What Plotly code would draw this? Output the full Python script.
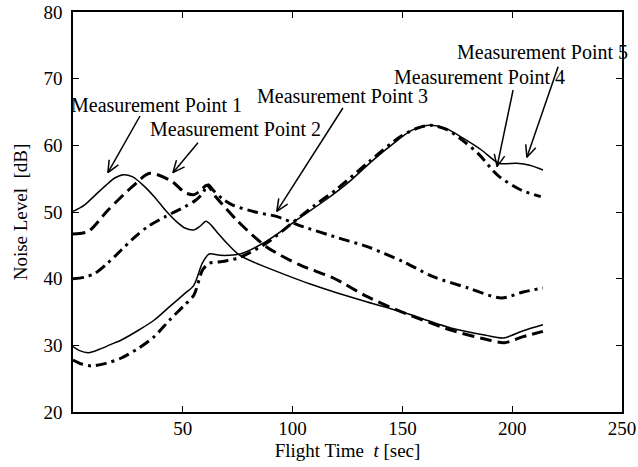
import math
import plotly.graph_objects as go

# Noise level at each measurement point over the flight (t in sec, level in dB)
t_mp1 = [0, 5, 10, 15, 19, 23, 27, 32, 37, 42, 47, 51, 55, 58, 60.5, 63, 66, 71, 76, 85, 95,
         108, 120, 134, 149, 172, 188, 196, 205, 214]
lv_mp1 = [50.1, 51.0, 52.5, 54.0, 55.1, 55.6, 55.3, 54.0, 52.3, 50.3, 48.6, 47.6, 47.3, 47.9, 48.6,
          48.0, 46.8, 45.0, 43.5, 42.1, 40.8, 39.2, 37.9, 36.5, 35.1, 32.6, 31.5, 31.1, 32.2, 33.1]

t_mp2 = [0, 7, 16, 27, 35, 45, 51, 55, 58, 61, 65, 74.5, 88, 103, 118.5, 134, 149, 172, 188,
         196.5, 205, 214]
lv_mp2 = [46.7, 47.1, 50.3, 53.8, 55.8, 54.6, 52.9, 52.6, 53.2, 54.0, 52.3, 48.8, 44.8, 42.1, 40.1,
          37.3, 35.1, 32.3, 30.9, 30.4, 31.3, 32.1]

t_mp3 = [0, 5, 10, 16, 22, 28, 34, 42, 51, 56, 59, 61.5, 64, 68, 73, 83, 93, 103, 121, 134, 150,
         164, 180, 195, 205, 214]
lv_mp3 = [40.0, 40.2, 40.8, 42.4, 44.3, 46.2, 47.8, 49.3, 50.8, 51.8, 52.8, 54.1, 53.2, 52.0, 51.0,
          50.0, 49.3, 48.0, 46.1, 44.8, 42.6, 40.3, 38.6, 37.1, 38.0, 38.6]

t_mp4 = [0, 4, 8.5, 15, 22, 30, 37, 44, 51, 55, 59, 62, 66, 70, 76, 88, 100, 110, 120, 135, 149,
         157, 163, 170, 178, 185, 191, 194.5, 204, 213]
lv_mp4 = [27.8, 27.2, 26.9, 27.3, 28.1, 29.6, 31.3, 33.8, 36.1, 37.5, 41.3, 42.3, 42.5, 42.7, 43.2,
          45.3, 48.4, 51.0, 53.4, 57.6, 61.3, 62.6, 63.0, 62.4, 60.6, 58.6, 56.3, 55.2, 53.3, 52.3]

t_mp5 = [0, 3, 7, 12, 17, 22, 30, 37, 44, 51, 55, 59, 62, 67, 76, 88, 104, 115, 126, 136, 146,
         154, 162, 170, 178, 186, 194, 202, 208, 214]
lv_mp5 = [29.8, 29.2, 28.9, 29.4, 30.1, 30.8, 32.3, 33.8, 35.8, 37.8, 39.0, 42.4, 43.7, 43.5, 43.7,
          45.6, 49.3, 51.8, 54.6, 57.6, 60.3, 62.2, 63.0, 62.5, 61.0, 59.3, 57.3, 57.3, 57.0, 56.3]

labels = ["Measurement Point 1", "Measurement Point 2", "Measurement Point 3",
          "Measurement Point 4", "Measurement Point 5"]
# label centre, arrow tail and arrow head, in data units
label_t = [37.8, 73.8, 122.7, 185.3, 213.6]
label_lv = [66.1, 62.5, 67.4, 70.2, 74.0]
tail_t = [30.5, 56.9, 122.9, 200.4, 220.9]
tail_lv = [64.4, 60.4, 65.6, 68.3, 71.8]
head_t = [15.9, 45.5, 92.8, 193.1, 206.7]
head_lv = [55.9, 55.9, 50.1, 56.8, 58.2]

x_ticks = [50, 100, 150, 200, 250]
y_ticks = [20, 30, 40, 50, 60, 70, 80]

W, H = 638, 467
ML, MR, MT, MB = 73, 16, 12, 55
X_RANGE = [0, 250]
Y_RANGE = [20, 80]
FONT = "Liberation Serif"

fig = go.Figure()

series = [
    (t_mp1, lv_mp1, dict(color="black", width=1.5, dash="solid")),
    (t_mp2, lv_mp2, dict(color="black", width=3, dash="12px,6px")),
    (t_mp3, lv_mp3, dict(color="black", width=3, dash="11px,5px,3px,5px")),
    (t_mp4, lv_mp4, dict(color="black", width=3, dash="11px,5px,3px,5px")),
    (t_mp5, lv_mp5, dict(color="black", width=1.5, dash="solid")),
]
for (tt, lv, ln), name in zip(series, labels):
    fig.add_trace(go.Scatter(x=tt, y=lv, mode="lines", name=name,
                             line=dict(shape="spline", smoothing=0.8, **ln),
                             showlegend=False))

# pixel scale of the plotting area, used to draw open V arrow heads
sx = (W - ML - MR) / (X_RANGE[1] - X_RANGE[0])
sy = (H - MT - MB) / (Y_RANGE[1] - Y_RANGE[0])
head_len, head_ang = 13, math.radians(24)

shapes = []
for lab, lt, ll, t0, v0, t1, v1 in zip(labels, label_t, label_lv, tail_t, tail_lv, head_t, head_lv):
    fig.add_annotation(x=lt, y=ll, text=lab, showarrow=False,
                       font=dict(family=FONT, size=20, color="black"))
    shapes.append(dict(type="line", xref="x", yref="y", x0=t0, y0=v0, x1=t1, y1=v1,
                       line=dict(color="black", width=1.5)))
    # direction from head back to tail in pixel space
    dx = (t0 - t1) * sx
    dy = (v0 - v1) * sy
    ang = math.atan2(dy, dx)
    for s in (-1, 1):
        a = ang + s * head_ang
        shapes.append(dict(type="line", xref="x", yref="y", x0=t1, y0=v1,
                           x1=t1 + head_len * math.cos(a) / sx,
                           y1=v1 + head_len * math.sin(a) / sy,
                           line=dict(color="black", width=1.5)))

fig.update_layout(
    template="none",
    width=W, height=H,
    margin=dict(l=ML, r=MR, t=MT, b=MB, autoexpand=False),
    paper_bgcolor="white", plot_bgcolor="white",
    font=dict(family=FONT, size=19, color="black"),
    shapes=shapes,
)
fig.update_xaxes(range=X_RANGE, tickvals=x_ticks, ticks="inside", ticklen=6, tickwidth=1,
                 tickcolor="black", automargin=False, ticklabelstandoff=-2,
                 showline=True, linecolor="black", linewidth=1.5, mirror="allticks",
                 showgrid=False, zeroline=False,
                 title=dict(text="Flight Time  <i>t</i> [sec]", standoff=6,
                            font=dict(family=FONT, size=19)),
                 tickfont=dict(family=FONT, size=19))
fig.update_yaxes(range=Y_RANGE, tickvals=y_ticks, ticks="inside", ticklen=6, tickwidth=1,
                 tickcolor="black", automargin=False,
                 showline=True, linecolor="black", linewidth=1.5, mirror="allticks",
                 showgrid=False, zeroline=False, ticklabelstandoff=5,
                 title=dict(text="Noise Level  [dB]", standoff=11,
                            font=dict(family=FONT, size=19)),
                 tickfont=dict(family=FONT, size=19))

fig.write_html("out.html")
